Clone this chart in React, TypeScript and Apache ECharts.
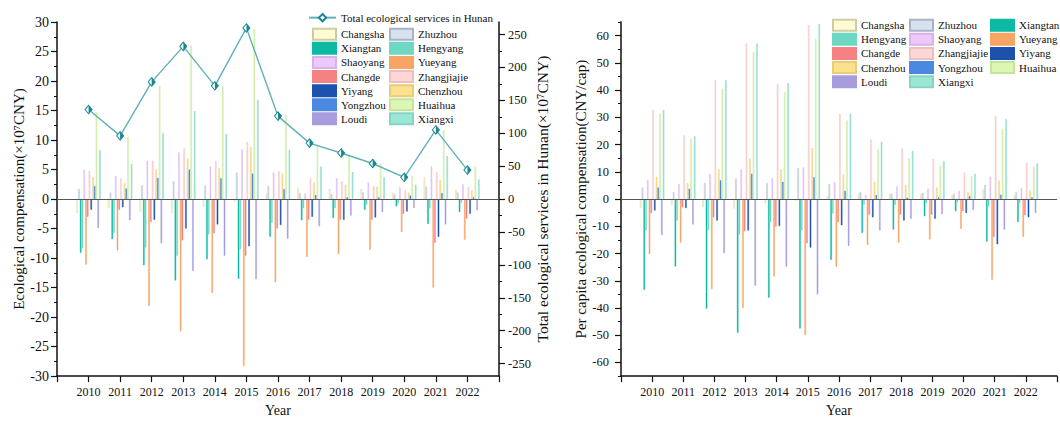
import React, { useEffect, useRef } from 'react';
import * as echarts from 'echarts';

const FONT = '"Liberation Serif", "Times New Roman", serif';

const years = ['2010', '2011', '2012', '2013', '2014', '2015', '2016', '2017', '2018', '2019', '2020', '2021', '2022'];
const axisYears = ['2009', ...years, '2023'];

const cities = ['Changsha', 'Zhuzhou', 'Xiangtan', 'Hengyang', 'Shaoyang', 'Yueyang', 'Changde', 'Zhangjiajie', 'Yiyang', 'Chenzhou', 'Yongzhou', 'Huaihua', 'Loudi', 'Xiangxi'];
const cityColors = ['#FFFBD3', '#D9E1EF', '#0DB9A2', '#6ED7C4', '#ECC9FA', '#F6A565', '#F48282', '#FFD6D6', '#1C52AE', '#FDE08C', '#4A88E2', '#DCF7B4', '#A99CDD', '#9CE6D6'];
const cityBorders = ['#CFCBA8', '#A9B3C6', '#0DB9A2', '#6ED7C4', '#D8B4E6', '#F6A565', '#F48282', '#EDC0C0', '#1C52AE', '#E8CC7A', '#4A88E2', '#C4E49C', '#A99CDD', '#88D4C4'];

// Ecological compensation (x10^7 CNY), 2010-2022
const compChangsha = [-2.3, -1.5, -2.1, -2.4, -1.3, -0.45, 0.9, 1.9, 1.7, 1.7, 1.1, 3.7, 1.5];
const compZhuzhou = [1.7, 1.1, 2.3, 3.0, 2.3, 4.5, 2.2, 1.0, 0.8, 1.1, 0.8, 2.1, 1.1];
const compXiangtan = [-9.1, -6.8, -11.2, -13.8, -10.2, -13.5, -6.4, -3.6, -3.2, -1.8, -1.2, -4.2, -2.2];
const compHengyang = [-8.3, -5.7, -8.2, -9.6, -6.0, -8.5, -4.0, -1.5, -1.5, -0.9, -0.7, -1.6, -0.6];
const compShaoyang = [5.0, 3.9, 6.5, 7.9, 5.5, 8.4, 4.5, 0.9, 3.5, 2.8, 2.0, 5.5, 2.5];
const compYueyang = [-11.1, -8.7, -18.1, -22.4, -15.9, -28.3, -14.1, -9.8, -9.3, -8.6, -5.6, -15.0, -6.9];
const compChangde = [-3.0, -1.8, -3.9, -7.0, -5.8, -9.6, -5.0, -3.5, -3.5, -3.5, -2.5, -7.4, -3.3];
const compZhangjiajie = [4.8, 3.5, 6.5, 8.6, 6.4, 9.7, 4.7, 3.5, 3.0, 2.2, 1.5, 4.6, 2.0];
const compYiyang = [-1.8, -1.4, -3.5, -5.0, -4.3, -8.0, -4.4, -3.0, -3.5, -3.1, -2.1, -6.4, -2.5];
const compChenzhou = [3.7, 2.7, 5.0, 6.9, 5.2, 8.8, 4.3, 2.8, 2.4, 2.1, 1.1, 3.2, 1.5];
const compYongzhou = [2.2, 1.8, 3.6, 5.0, 3.5, 4.3, 1.7, 0.7, 0.3, 0.3, 0.6, 1.0, 0.3];
const compHuaihua = [14.7, 10.5, 19.2, 26.0, 19.1, 28.8, 14.2, 9.1, 7.4, 6.1, 3.9, 11.7, 5.5];
const compLoudi = [-4.9, -3.6, -7.5, -12.2, -9.6, -13.6, -6.7, -4.6, -2.8, -2.2, -1.5, -4.3, -1.9];
const compXiangxi = [8.3, 5.9, 11.2, 14.9, 11.0, 16.8, 8.3, 5.5, 4.6, 3.7, 2.4, 7.3, 3.3];

// Total ecological services in Hunan (x10^7 CNY)
const totalHunan = [136, 96, 178, 232, 172, 260, 126, 85, 70, 54, 33, 105, 44];

// Per capita ecological compensation (CNY/cap)
const pcChangsha = [-3.3, -2.1, -3.0, -3.5, -1.5, -0.6, 1.0, 2.2, 1.9, 1.8, 1.3, 3.5, 1.3];
const pcZhuzhou = [4.2, 2.5, 5.8, 7.5, 5.8, 11.3, 5.5, 2.5, 1.9, 2.2, 1.9, 5.2, 2.5];
const pcXiangtan = [-33.3, -24.7, -40.2, -49.1, -36.2, -47.5, -22.3, -12.4, -11.2, -6.3, -4.5, -15.6, -8.4];
const pcHengyang = [-11.5, -7.9, -11.4, -13.0, -8.4, -11.5, -5.3, -2.1, -2.1, -1.5, -1.1, -2.7, -1.5];
const pcShaoyang = [7.0, 5.5, 9.1, 10.9, 7.6, 11.6, 6.2, 1.5, 4.6, 3.8, 2.9, 8.2, 4.0];
const pcYueyang = [-20.2, -16.0, -33.0, -40.0, -28.4, -49.9, -24.8, -16.8, -16.0, -14.8, -10.9, -29.6, -13.8];
const pcChangde = [-5.1, -3.0, -6.7, -11.8, -10.1, -16.2, -8.5, -5.7, -5.7, -5.7, -4.5, -13.9, -5.9];
const pcZhangjiajie = [32.7, 23.4, 43.6, 57.1, 42.2, 63.8, 31.3, 21.8, 18.5, 14.7, 9.7, 30.4, 13.3];
const pcYiyang = [-4.2, -3.3, -7.9, -11.5, -9.9, -17.8, -9.6, -6.7, -7.9, -7.2, -5.1, -16.6, -6.7];
const pcChenzhou = [8.2, 5.8, 10.9, 14.9, 10.9, 18.8, 9.1, 6.3, 5.1, 4.2, 2.5, 6.8, 3.2];
const pcYongzhou = [4.2, 3.8, 6.9, 9.3, 6.3, 8.0, 3.0, 1.5, 0.5, 0.6, 1.1, 1.6, 0.6];
const pcHuaihua = [31.3, 22.1, 40.4, 53.9, 39.3, 58.8, 28.8, 18.3, 14.9, 12.2, 8.4, 25.8, 11.9];
const pcLoudi = [-13.2, -9.3, -19.9, -31.8, -24.8, -35.0, -17.2, -11.5, -7.2, -5.5, -3.9, -11.2, -5.1];
const pcXiangxi = [32.7, 23.0, 43.6, 57.1, 42.5, 64.2, 31.3, 21.0, 17.6, 13.9, 9.3, 29.3, 13.1];

const compData = [compChangsha, compZhuzhou, compXiangtan, compHengyang, compShaoyang, compYueyang, compChangde, compZhangjiajie, compYiyang, compChenzhou, compYongzhou, compHuaihua, compLoudi, compXiangxi];
const pcData = [pcChangsha, pcZhuzhou, pcXiangtan, pcHengyang, pcShaoyang, pcYueyang, pcChangde, pcZhangjiajie, pcYiyang, pcChenzhou, pcYongzhou, pcHuaihua, pcLoudi, pcXiangxi];

// Tick values
const rightTicks = [-250, -200, -150, -100, -50, 0, 50, 100, 150, 200, 250];
const rightMinor = [-225, -175, -125, -75, -25, 25, 75, 125, 175, 225];
const pcTicks = [-60, -50, -40, -30, -20, -10, 0, 10, 20, 30, 40, 50, 60];
const pcMinor = [-65, -55, -45, -35, -25, -15, -5, 5, 15, 25, 35, 45, 55, 65];

const LINE_NAME = 'Total ecological services in Hunan';
const legendLeftCol1 = ['Changsha', 'Xiangtan', 'Shaoyang', 'Changde', 'Yiyang', 'Yongzhou', 'Loudi'];
const legendLeftCol2 = ['Zhuzhou', 'Hengyang', 'Yueyang', 'Zhangjiajie', 'Chenzhou', 'Huaihua', 'Xiangxi'];
const legendRightCol1 = ['Changsha', 'Hengyang', 'Changde', 'Chenzhou', 'Loudi'];
const legendRightCol2 = ['Zhuzhou', 'Shaoyang', 'Zhangjiajie', 'Yongzhou', 'Xiangxi'];
const legendRightCol3 = ['Xiangtan', 'Yueyang', 'Yiyang', 'Huaihua'];

const pad = (arr: number[]) => [null, ...arr, null];

const AX = '#111';
const textBase = { fontFamily: FONT, color: '#111' };

function buildOption() {
  const legendCommon = {
    orient: 'vertical',
    padding: 0,
    itemGap: 0,
    itemWidth: 23,
    itemHeight: 11,
    selectedMode: false,
    icon: 'rect',
    textStyle: { ...textBase, fontSize: 11, lineHeight: 14.1 },
  };
  const mkLegend = (data: string[], left: number, top: number) => ({ ...legendCommon, data, left, top });

  const xAxisBase = (gridIndex: number) => ({
    type: 'category',
    gridIndex,
    data: axisYears,
    boundaryGap: false,
    axisLine: { onZero: false, lineStyle: { color: AX, width: 1.5 } },
    axisTick: { interval: 0, length: 6, lineStyle: { color: AX, width: 1.2 } },
    axisLabel: {
      interval: 0,
      margin: 10,
      ...textBase,
      fontSize: 12,
      formatter: (v: string) => (v === '2009' || v === '2023' ? '' : v),
    },
    splitLine: { show: false },
    name: 'Year',
    nameLocation: 'middle',
    nameGap: 24,
    nameTextStyle: { ...textBase, fontSize: 14 },
  });

  const barSeries = (data: number[][], xi: number, yi: number) =>
    cities.map((c, i) => ({
      name: c,
      type: 'bar',
      xAxisIndex: xi,
      yAxisIndex: yi,
      data: pad(data[i]),
      barWidth: 1.5,
      barGap: '17%',
      itemStyle: { color: cityColors[i], borderColor: cityBorders[i], borderWidth: 0.4 },
    }));

  const zeroLine = {
    silent: true,
    symbol: ['none', 'none'],
    label: { show: false },
    lineStyle: { color: '#555', width: 1, type: 'solid' },
    data: [{ yAxis: 0 }],
  };

  const rightBars = barSeries(pcData, 1, 3);
  (rightBars[rightBars.length - 1] as any).markLine = zeroLine;

  return {
    animation: false,
    backgroundColor: '#fff',
    textStyle: { fontFamily: FONT },
    grid: [
      { left: 57, right: 561, top: 22, bottom: 42 },
      { left: 621, right: -3, top: 22, bottom: 42 },
    ],
    legend: [
      {
        data: [LINE_NAME],
        left: 308,
        top: 10.6,
        padding: 0,
        itemWidth: 27,
        itemHeight: 9,
        selectedMode: false,
        textStyle: { ...textBase, fontSize: 11, lineHeight: 14.1 },
      },
      mkLegend(legendLeftCol1, 312, 27.2),
      mkLegend(legendLeftCol2, 389, 27.2),
      mkLegend(legendRightCol1, 832, 18.2),
      mkLegend(legendRightCol2, 909, 18.2),
      mkLegend(legendRightCol3, 990, 18.2),
    ],
    xAxis: [xAxisBase(0), xAxisBase(1)],
    yAxis: [
      {
        type: 'value',
        gridIndex: 0,
        position: 'left',
        min: -30,
        max: 30,
        interval: 5,
        axisLine: { show: true, lineStyle: { color: AX, width: 1.5 } },
        axisTick: { show: true, length: 6, lineStyle: { color: AX, width: 1.2 } },
        minorTick: { show: true, splitNumber: 2, length: 3, lineStyle: { color: AX, width: 1 } },
        axisLabel: { ...textBase, fontSize: 14, margin: 8 },
        splitLine: { show: false },
        name: 'Ecological compensation(×10⁷CNY)',
        nameLocation: 'middle',
        nameGap: 30,
        nameTextStyle: { ...textBase, fontSize: 15 },
      },
      {
        type: 'value',
        gridIndex: 0,
        position: 'right',
        min: -269,
        max: 269,
        axisLine: { show: true, lineStyle: { color: AX, width: 1.5 } },
        axisTick: { show: true, length: 6, customValues: rightTicks, lineStyle: { color: AX, width: 1.2 } },
        axisLabel: { ...textBase, fontSize: 12.5, margin: 9, customValues: rightTicks },
        splitLine: { show: false },
        name: 'Total ecological services in Hunan(×10⁷CNY)',
        nameLocation: 'middle',
        nameGap: 34,
        nameTextStyle: { ...textBase, fontSize: 15.5 },
      },
      {
        type: 'value',
        gridIndex: 0,
        position: 'right',
        min: -269,
        max: 269,
        axisLine: { show: false },
        axisTick: { show: true, length: 3, customValues: rightMinor, lineStyle: { color: AX, width: 1 } },
        axisLabel: { show: false },
        splitLine: { show: false },
      },
      {
        type: 'value',
        gridIndex: 1,
        position: 'left',
        min: -65,
        max: 65,
        axisLine: { show: true, lineStyle: { color: AX, width: 1.5 } },
        axisTick: { show: true, length: 6, customValues: pcTicks, lineStyle: { color: AX, width: 1.2 } },
        axisLabel: { ...textBase, fontSize: 12.5, margin: 12, customValues: pcTicks },
        splitLine: { show: false },
        name: 'Per capita ecological compensation(CNY/cap)',
        nameLocation: 'middle',
        nameGap: 32,
        nameTextStyle: { ...textBase, fontSize: 15 },
      },
      {
        type: 'value',
        gridIndex: 1,
        position: 'left',
        min: -65,
        max: 65,
        axisLine: { show: false },
        axisTick: { show: true, length: 3, customValues: pcMinor, lineStyle: { color: AX, width: 1 } },
        axisLabel: { show: false },
        splitLine: { show: false },
      },
    ],
    series: [
      ...barSeries(compData, 0, 0),
      {
        name: LINE_NAME,
        type: 'line',
        xAxisIndex: 0,
        yAxisIndex: 1,
        data: pad(totalHunan),
        symbol: 'diamond',
        symbolSize: [7, 8.5],
        lineStyle: { color: '#5FB2B8', width: 1.4 },
        itemStyle: { color: '#ffffff', borderColor: '#17878D', borderWidth: 1 },
        z: 10,
        markLine: zeroLine,
      },
      {
        name: 'Total half marker',
        type: 'line',
        xAxisIndex: 0,
        yAxisIndex: 1,
        data: pad(totalHunan),
        symbol: 'path://M0 0L5 5L0 10Z',
        symbolSize: [3.5, 8.5],
        symbolOffset: [1.75, 0],
        lineStyle: { width: 0, opacity: 0 },
        itemStyle: { color: '#17878D' },
        z: 11,
      },
      ...rightBars,
    ],
  };
}

export default function App() {
  const ref = useRef<HTMLDivElement>(null);
  useEffect(() => {
    if (!ref.current) return;
    const chart = echarts.init(ref.current, undefined, { renderer: 'svg' });
    chart.setOption(buildOption() as any);
    return () => chart.dispose();
  }, []);
  return (
    <div
      ref={ref}
      style={{ position: 'absolute', left: 0, top: 0, width: 1060, height: 422, background: '#fff' }}
    />
  );
}
